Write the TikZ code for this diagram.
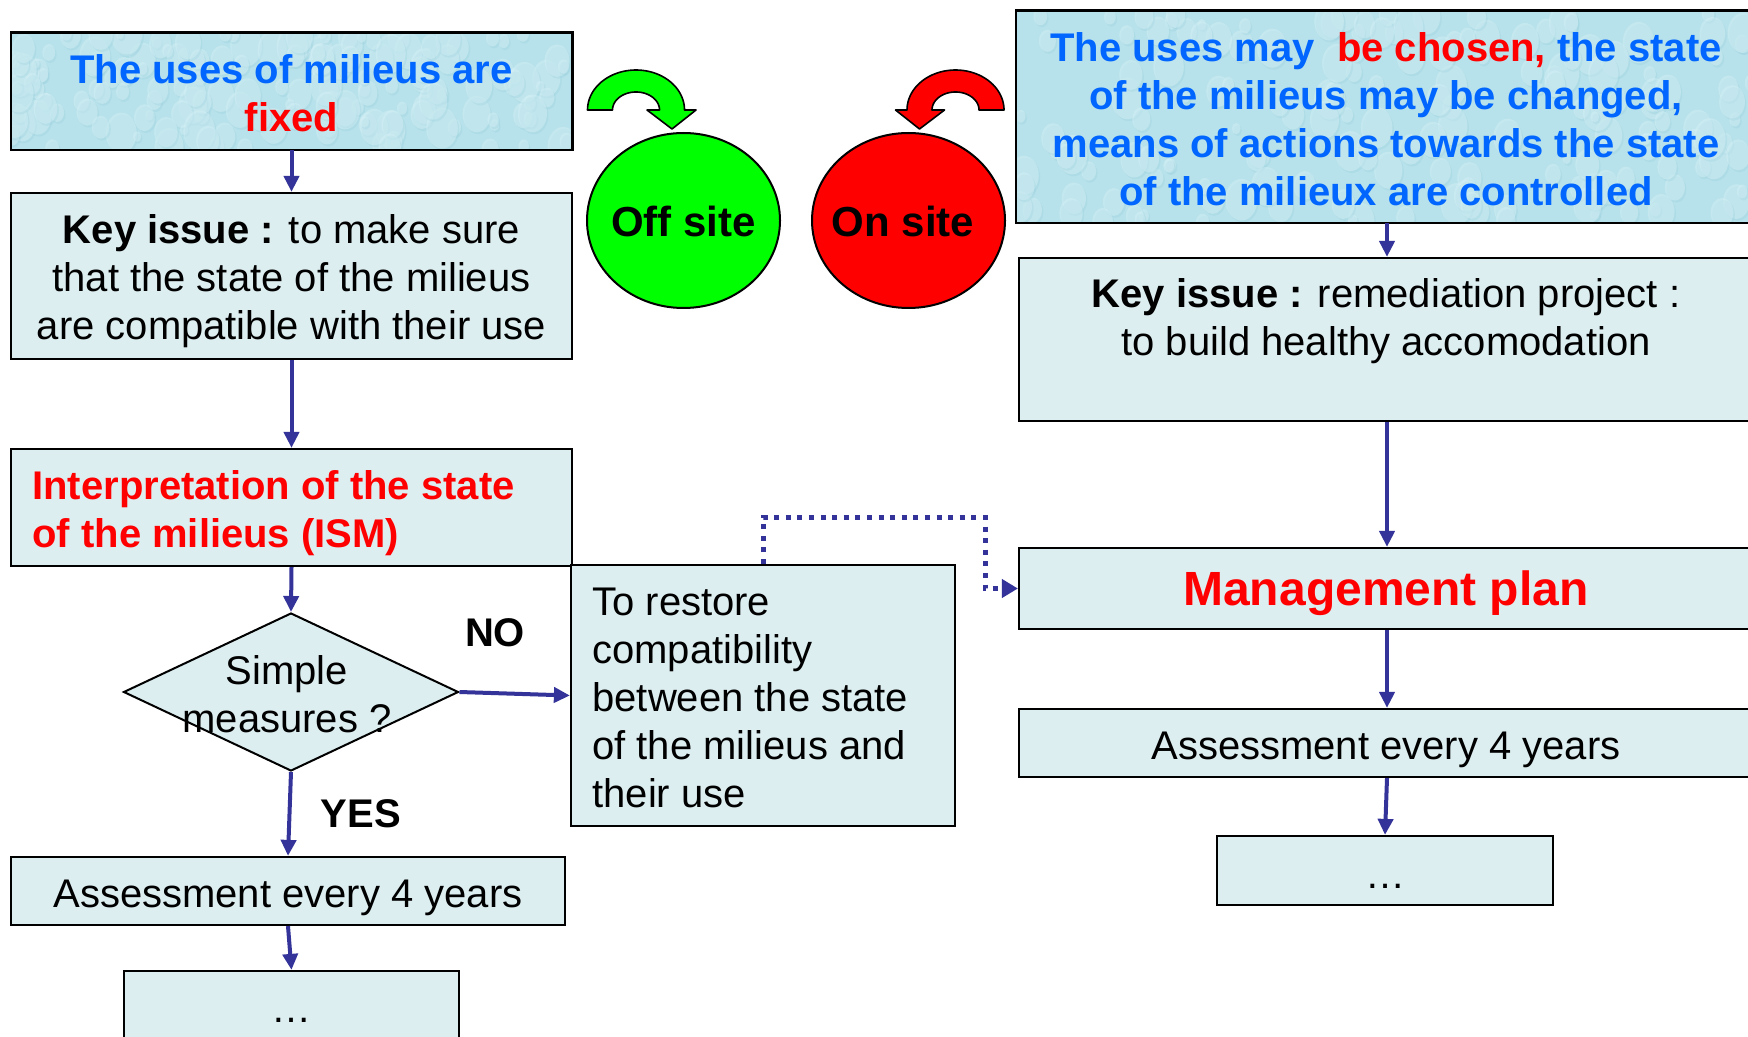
\documentclass[tikz,border=0pt]{standalone}
\usepackage{fontspec}
\setmainfont{Liberation Sans}
\usetikzlibrary{arrows.meta,shapes.geometric}

\definecolor{panel}{RGB}{221,238,241}
\definecolor{water}{RGB}{184,226,235}
\definecolor{waterhi}{RGB}{214,241,246}
\definecolor{waterlo}{RGB}{146,204,219}
\definecolor{flow}{RGB}{51,51,153}
\definecolor{headblue}{RGB}{0,102,255}
\definecolor{alertred}{RGB}{255,0,0}
\definecolor{offgreen}{RGB}{0,255,0}

\tikzset{
  box/.style={draw=black, line width=1.1pt, fill=panel, rectangle, inner sep=0pt},
  frame/.style={rectangle, inner sep=0pt},
  txt/.style={font=\fontsize{20}{24}\selectfont, inner sep=0pt, align=center},
  boldtxt/.style={font=\fontsize{20}{24}\selectfont\bfseries, inner sep=0pt, align=center},
  flowarrow/.style={draw=flow, line width=2pt, -{Triangle[length=8pt,width=7.5pt]}},
  dotlink/.style={draw=flow, line width=2.5pt, dash pattern=on 2.5pt off 3.3pt,
                  -{Triangle[length=8pt,width=9pt]}},
  badge/.style={ellipse, draw=black, line width=1pt, inner sep=0pt,
                minimum width=96.5pt, minimum height=87.5pt},
  curl/.style={draw=black, line width=0.8pt, line join=round},
}

% water-drop texture inside a rectangle: x0 y0 x1 y1 seed
\newcommand\wetfill[5]{%
  \begin{scope}
    \clip (#1,#2) rectangle (#3,#4);
    \fill[water] (#1,#2) rectangle (#3,#4);
    \pgfmathsetseed{#5}
    \foreach \k in {1,...,170}{
      \pgfmathsetmacro\dropx{#1+rnd*(#3-#1)}
      \pgfmathsetmacro\dropy{#2+rnd*(#4-#2)}
      \pgfmathsetmacro\dropr{2+6*rnd}
      \fill[waterlo, opacity=0.25] (\dropx+1.5,\dropy+2) ellipse[x radius=\dropr pt, y radius={1.3*\dropr pt}];
      \fill[waterhi, opacity=0.45] (\dropx,\dropy) ellipse[x radius=\dropr pt, y radius={1.3*\dropr pt}];
    }
  \end{scope}}

\begin{document}
\begin{tikzpicture}[x=0.5pt, y=-0.5pt]
  \useasboundingbox (0,0) rectangle (1748,1037);
  \clip (0,0) rectangle (1748,1037);

  % ---------- left column: uses are fixed ----------
  \node[frame, minimum width=280.5pt, minimum height=58.5pt] (fixed) at (291.5,91.5) {};
  \wetfill{11}{33}{572}{150}{11}
  \draw[line width=1.1pt] (fixed.north west) rectangle (fixed.south east);
  \node[boldtxt, text=headblue] (fixedtxt) at (291.5,93)
    {The uses of milieus are\\\textcolor{alertred}{fixed}};

  \node[box, minimum width=280.5pt, minimum height=83pt] (keyL) at (291.5,276) {};
  \node[txt] (keyLtxt) at (291.5,281.5)
    {\textbf{Key issue :} to make sure\\that the state of the milieus\\are compatible with their use};

  \node[box, minimum width=280.5pt, minimum height=58.5pt] (ism) at (291.5,507.5) {};
  \node[boldtxt, text=alertred, align=left, anchor=west] (ismtxt) at (32,513.5)
    {Interpretation of the state\\of the milieus (ISM)};

  \node[diamond, draw=black, line width=1pt, fill=panel, inner sep=0pt,
        minimum width=167.5pt, minimum height=79pt] (simple) at (291,692) {};
  \node[txt] (simpletxt) at (287,694) {Simple\\measures ?};

  \node[box, minimum width=277pt, minimum height=34pt] (assessL) at (288,891) {};
  \node[txt] (assessLtxt) at (288,897.5) {Assessment every 4 years};

  \node[box, minimum width=167.5pt, minimum height=34pt] (dotsL) at (291.5,1005) {};
  \node[txt] (dotsLtxt) at (291.5,1013) {\strut…};

  \node[box, minimum width=192pt, minimum height=130.5pt] (restore) at (763,695.5) {};
  \node[txt, align=left, anchor=west] (restoretxt) at (592,697.5)
    {To restore\\compatibility\\between the state\\of the milieus and\\their use};

  \node[boldtxt] (no) at (495,633) {NO};
  \node[boldtxt] (yes) at (361,814) {YES};

  % ---------- off site / on site badges ----------
  \node[badge, fill=offgreen] (offsite) at (683.5,220.5) {};
  \node[font=\fontsize{21}{25}\selectfont\bfseries, inner sep=0pt] (offtxt) at (683.5,221) {Off site};
  \node[badge, fill=alertred] (onsite) at (908.5,220.5) {};
  \node[font=\fontsize{21}{25}\selectfont\bfseries, inner sep=0pt] (ontxt) at (903,221) {On site};

  \filldraw[curl, fill=offgreen]
    plot[domain=180:0, samples=60] ({636+48.5*cos(\x)},{110-40*sin(\x)})
    -- (696,110) -- (672,129) -- (647,110) -- (659.5,110)
    -- plot[domain=0:180, samples=60] ({636+23.5*cos(\x)},{110-18*sin(\x)}) -- cycle;
  \filldraw[curl, fill=alertred]
    plot[domain=0:180, samples=60] ({955.5+48.5*cos(\x)},{110-40*sin(\x)})
    -- (895.5,110) -- (919.5,129) -- (944.5,110) -- (932,110)
    -- plot[domain=180:0, samples=60] ({955.5+23.5*cos(\x)},{110-18*sin(\x)}) -- cycle;

  % ---------- right column: uses may be chosen ----------
  \node[frame, minimum width=370pt, minimum height=106pt] (chosen) at (1386,117) {};
  \wetfill{1016}{11}{1756}{223}{29}
  \draw[line width=1.1pt] (chosen.north west) rectangle (chosen.south east);
  \node[boldtxt, text=headblue] (chosentxt) at (1386,119)
    {The uses may~ \textcolor{alertred}{be chosen,} the state\\of the milieus may be changed,\\means of actions towards the state\\of the milieux are controlled};

  \node[box, minimum width=368pt, minimum height=81.5pt] (keyR) at (1387,339.5) {};
  \node[txt] (keyRtxt) at (1386,348)
    {\textbf{Key issue :} remediation project :\\to build healthy accomodation\\\strut};

  \node[box, minimum width=368pt, minimum height=40.5pt] (mgmt) at (1387,588.5) {};
  \node[font=\fontsize{24}{28}\selectfont\bfseries, text=alertred, inner sep=0pt] (mgmttxt) at (1386,593.5) {Management plan};

  \node[box, minimum width=368pt, minimum height=34pt] (assessR) at (1387,743) {};
  \node[txt] (assessRtxt) at (1386,749.5) {Assessment every 4 years};

  \node[box, minimum width=168pt, minimum height=34.5pt] (dotsR) at (1385,870.5) {};
  \node[txt] (dotsRtxt) at (1385,878.5) {\strut…};

  % ---------- connectors ----------
  \draw[flowarrow] (fixed.south) -- (keyL.north);
  \draw[flowarrow] (keyL.south) -- (ism.north);
  \draw[flowarrow] (ism.south) -- (simple.north);
  \draw[flowarrow] (simple.south) -- (assessL.north);
  \draw[flowarrow] (assessL.south) -- (dotsL.north);
  \draw[flowarrow] (simple.east) -- (restore.west);

  \draw[flowarrow] (chosen.south -| keyR.north) -- (keyR.north);
  \draw[flowarrow] (keyR.south) -- (mgmt.north);
  \draw[flowarrow] (mgmt.south) -- (assessR.north);
  \draw[flowarrow] (assessR.south) -- (dotsR.north);

  \coordinate (bend) at (985,517);
  \draw[dotlink] (restore.north) |- (bend) |- (mgmt.west);
\end{tikzpicture}
\end{document}
